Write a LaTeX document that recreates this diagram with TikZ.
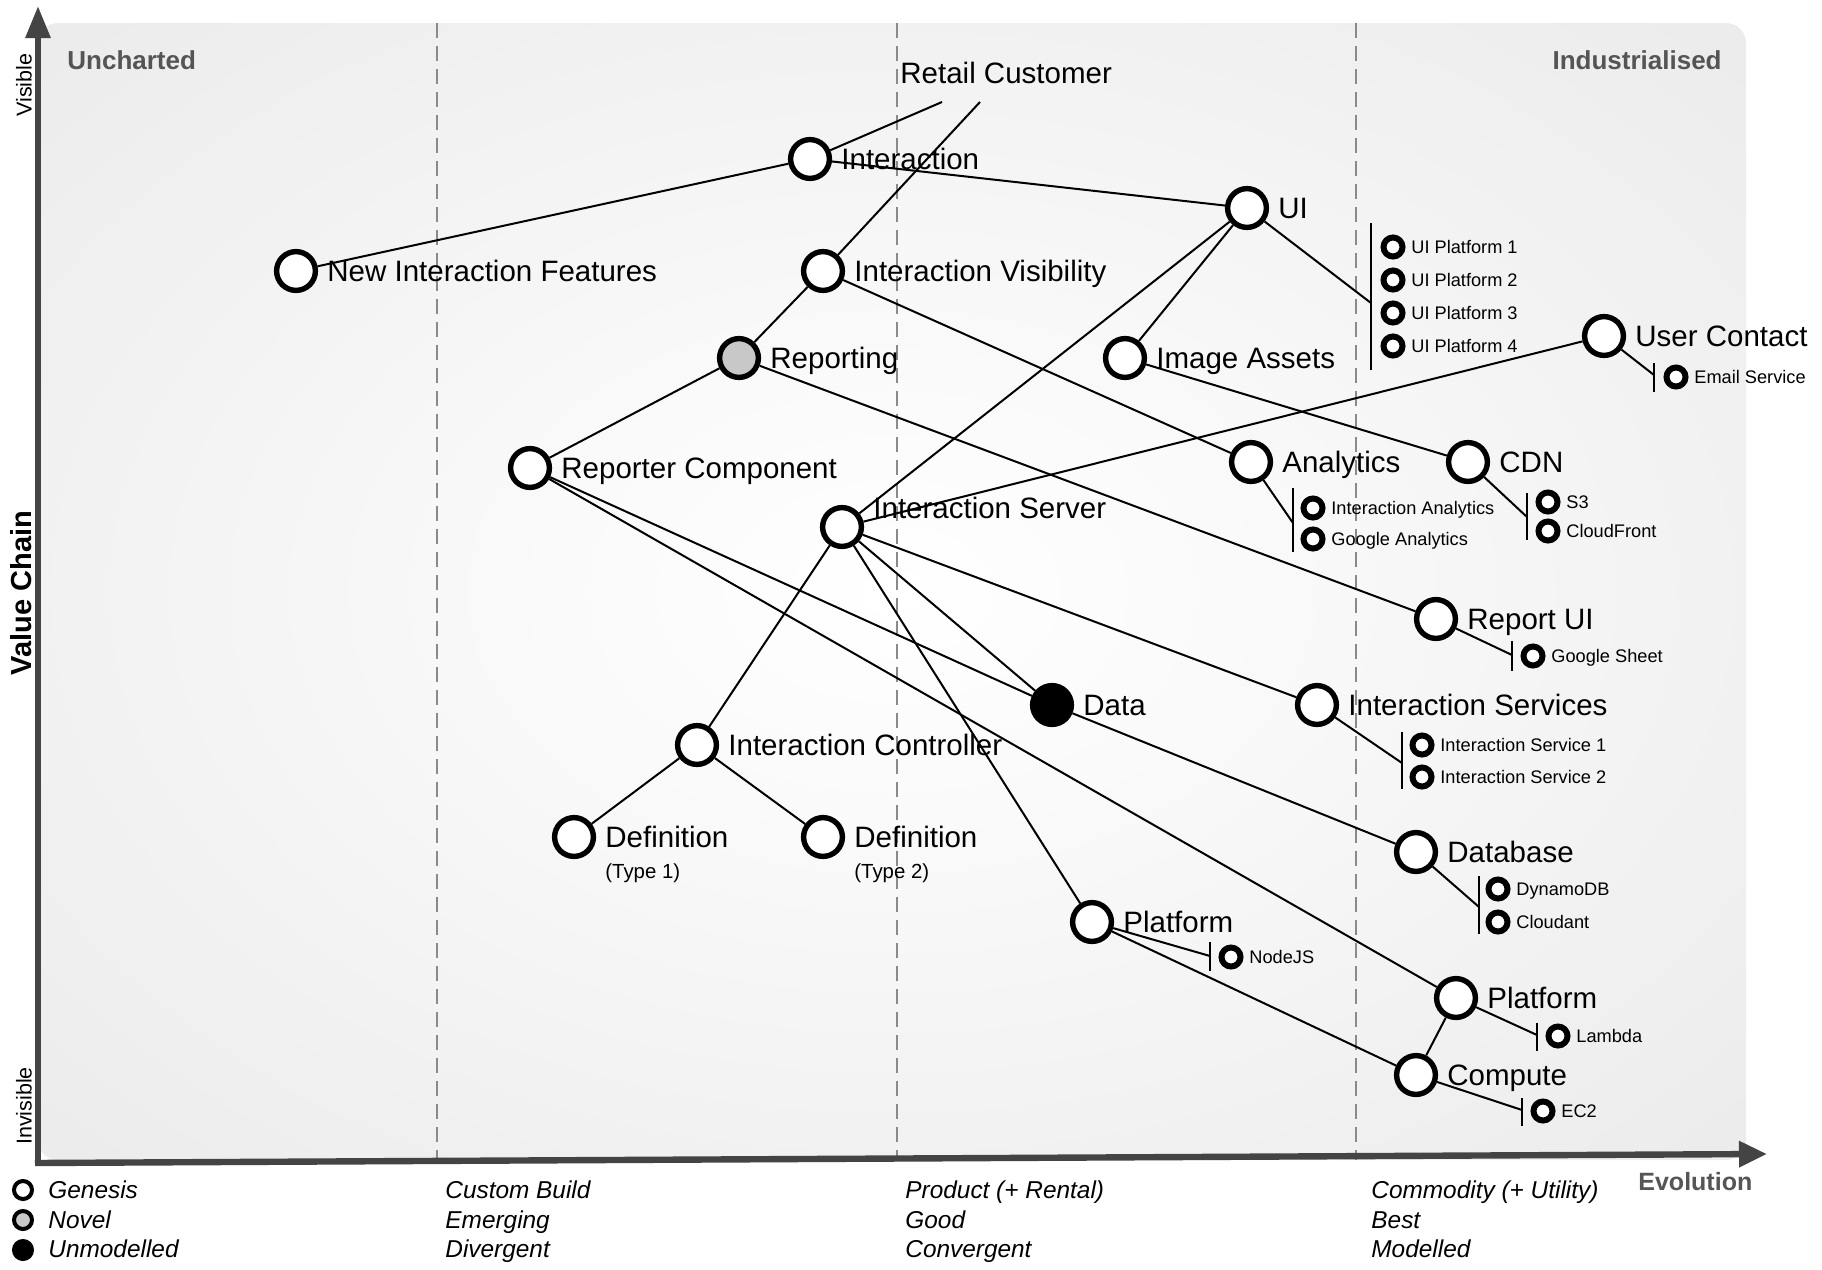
\documentclass[tikz,border=0pt]{standalone}
\usepackage{fontspec}
\setmainfont{Liberation Sans}
\usetikzlibrary{arrows.meta}
\definecolor{axisgray}{HTML}{444444}
\definecolor{labgray}{HTML}{555555}
\definecolor{dashgray}{HTML}{8A8A8A}
\definecolor{novelgray}{HTML}{C8C8C8}
\pgfdeclareradialshading{bgshade}{\pgfpoint{0bp}{0bp}}{color(0bp)=(white); color(10bp)=(white!98!black); color(50bp)=(white!89!black); color(75bp)=(white!87!black)}
\newcommand{\wmcomp}[6][]{\node[comp,#1] (#2) at (#3,#4) {};\node[biglbl] (#2l) at (#3+31,#4+#6) {#5};}
\newcommand{\wsub}[4]{\node[subc] (#1) at (#2,#3) {};\node[smalllbl] (#1l) at (#2+18,#3+6.5) {#4};}
\newcommand{\wbrk}[5]{\coordinate (#1t) at (#2,#3);\coordinate (#1b) at (#2,#4);\coordinate (#1) at (#2,#5);\draw[brk] (#1t) -- (#1b);}
\begin{document}
\begin{tikzpicture}[x=0.5pt,y=-0.5pt,
  comp/.style={circle,draw=black,line width=2.7pt,fill=white,minimum size=19.4pt,inner sep=0pt},
  novel/.style={fill=novelgray},
  unmod/.style={fill=black},
  subc/.style={circle,draw=black,line width=3pt,fill=white,minimum size=9.5pt,inner sep=0pt},
  legc/.style={circle,draw=black,line width=2pt,fill=white,minimum size=9pt,inner sep=0pt},
  biglbl/.style={anchor=base west,inner sep=0pt,font=\fontsize{14.75pt}{17pt}\selectfont},
  smalllbl/.style={anchor=base west,inner sep=0pt,font=\fontsize{9.1pt}{11pt}\selectfont},
  typelbl/.style={anchor=base west,inner sep=0pt,font=\fontsize{10.2pt}{12pt}\selectfont},
  legt/.style={anchor=base west,inner sep=0pt,font=\fontsize{12.2pt}{14pt}\selectfont\itshape},
  axlbl/.style={inner sep=0pt,text=labgray,font=\fontsize{13pt}{15pt}\selectfont\bfseries},
  vlbl/.style={inner sep=0pt,rotate=90,font=\fontsize{10.75pt}{13pt}\selectfont},
  conn/.style={line width=1pt,black},
  brk/.style={line width=1.1pt,black},
  dashline/.style={dashgray,line width=0.75pt,dash pattern=on 7.5pt off 4pt}
]
\useasboundingbox (0,0) rectangle (1822,1270);
\fill[white] (0,0) rectangle (1822,1270);
% background
\shade[shading=bgshade,rounded corners=10pt] (38,23) rectangle (1746,1160);
\draw[dashline] (437,23) -- (437,1160);
\draw[dashline] (897,23) -- (897,1160);
\draw[dashline] (1356,23) -- (1356,1160);
% axes
\draw[axisgray,line width=3pt,-{Triangle[length=16pt,width=12pt]}] (38,1166) -- (38,6);
\draw[axisgray,line width=3.2pt,-{Triangle[length=14pt,width=12.5pt]}] (35,1163) -- (1767,1154);
\node[axlbl,anchor=base west] (unch) at (67,69) {Uncharted};
\node[axlbl,anchor=base east] (indu) at (1722,69) {Industrialised};
\node[axlbl,anchor=base west,font=\fontsize{12.5pt}{15pt}\selectfont\bfseries] (evo) at (1638,1190) {Evolution};
\node[vlbl] (vis) at (24,85) {Visible};
\node[vlbl] (invis) at (24,1106) {Invisible};
\node[vlbl,font=\fontsize{14.5pt}{17pt}\selectfont\bfseries] (vchain) at (21,593) {Value Chain};
% legend
\node[legc] (lg1) at (23,1190) {};
\node[legt] (lg1l) at (48,1198) {Genesis};
\node[legc,fill=novelgray] (lg2) at (23,1220) {};
\node[legt] (lg2l) at (48,1228) {Novel};
\node[legc,fill=black] (lg3) at (23,1250) {};
\node[legt] (lg3l) at (48,1257) {Unmodelled};
\node[legt] (c1a) at (445,1198) {Custom Build};
\node[legt] (c1b) at (445,1228) {Emerging};
\node[legt] (c1c) at (445,1257) {Divergent};
\node[legt] (c2a) at (905,1198) {Product (+ Rental)};
\node[legt] (c2b) at (905,1228) {Good};
\node[legt] (c2c) at (905,1257) {Convergent};
\node[legt] (c3a) at (1371,1198) {Commodity (+ Utility)};
\node[legt] (c3b) at (1371,1228) {Best};
\node[legt] (c3c) at (1371,1257) {Modelled};
% retail customer
\node[biglbl] (rcust) at (900,83) {Retail Customer};
\coordinate (rca) at (942,102);
\coordinate (rcb) at (980,102);
% components
\wmcomp{nif}{296}{271}{New Interaction Features}{10}
\wmcomp{int}{810}{159}{Interaction}{10}
\wmcomp{ui}{1247}{208}{UI}{10}
\wmcomp{iv}{823}{271}{Interaction Visibility}{10}
\wmcomp[novel]{rep}{739}{358}{Reporting}{10}
\wmcomp{img}{1125}{358}{Image Assets}{10}
\wmcomp{uc}{1604}{336}{User Contact}{10}
\wmcomp{rc}{530}{468}{Reporter Component}{10}
\wmcomp{is}{842}{527}{Interaction Server}{-9}
\wmcomp{ana}{1251}{462}{Analytics}{10}
\wmcomp{cdn}{1468}{462}{CDN}{10}
\wmcomp{rui}{1436}{619}{Report UI}{10}
\wmcomp[unmod]{data}{1052}{705}{Data}{10}
\wmcomp{isv}{1317}{705}{Interaction Services}{10}
\wmcomp{ic}{697}{745}{Interaction Controller}{10}
\wmcomp{dfa}{574}{837}{Definition}{10}
\wmcomp{dfb}{823}{837}{Definition}{10}
\wmcomp{db}{1416}{852}{Database}{10}
\wmcomp{pm}{1092}{922}{Platform}{10}
\wmcomp{pr}{1456}{998}{Platform}{10}
\wmcomp{cmp}{1416}{1075}{Compute}{10}
\node[typelbl] (dfat) at (605,878) {(Type 1)};
\node[typelbl] (dfbt) at (854,878) {(Type 2)};
% brackets
\wbrk{bui}{1371}{223}{370}{303}
\wbrk{bem}{1654}{363}{392}{375}
\wbrk{bana}{1293}{488}{552}{523}
\wbrk{bcdn}{1527}{493}{540}{517}
\wbrk{bgs}{1512}{641}{671}{655}
\wbrk{bisv}{1402}{732}{789}{763}
\wbrk{bdb}{1479}{876}{934}{907}
\wbrk{bnode}{1210}{942}{971}{956}
\wbrk{blam}{1537}{1023}{1051}{1035}
\wbrk{bec}{1522}{1098}{1126}{1110}
% sub components
\wsub{upa}{1393}{247}{UI Platform 1}
\wsub{upb}{1393}{280}{UI Platform 2}
\wsub{upc}{1393}{313}{UI Platform 3}
\wsub{upd}{1393}{346}{UI Platform 4}
\wsub{ems}{1676}{377}{Email Service}
\wsub{ia}{1313}{508}{Interaction Analytics}
\wsub{ga}{1313}{539}{Google Analytics}
\wsub{sthree}{1548}{502}{S3}
\wsub{cf}{1548}{531}{CloudFront}
\wsub{gs}{1533}{656}{Google Sheet}
\wsub{isa}{1422}{745}{Interaction Service 1}
\wsub{isb}{1422}{777}{Interaction Service 2}
\wsub{ddb}{1498}{889}{DynamoDB}
\wsub{cld}{1498}{922}{Cloudant}
\wsub{njs}{1231}{957}{NodeJS}
\wsub{lam}{1558}{1036}{Lambda}
\wsub{ectwo}{1543}{1111}{EC2}
% connectors
\draw[conn] (rca) -- (int);
\draw[conn] (rcb) -- (iv);
\draw[conn] (int) -- (nif);
\draw[conn] (int) -- (ui);
\draw[conn] (ui) -- (is);
\draw[conn] (ui) -- (img);
\draw[conn] (ui) -- (bui);
\draw[conn] (iv) -- (rep);
\draw[conn] (iv) -- (ana);
\draw[conn] (rep) -- (rc);
\draw[conn] (rep) -- (rui);
\draw[conn] (img) -- (cdn);
\draw[conn] (is) -- (uc);
\draw[conn] (is) -- (ic);
\draw[conn] (is) -- (data);
\draw[conn] (is) -- (pm);
\draw[conn] (is) -- (isv);
\draw[conn] (rc) -- (data);
\draw[conn] (rc) -- (pr);
\draw[conn] (data) -- (db);
\draw[conn] (pm) -- (cmp);
\draw[conn] (pm) -- (bnode);
\draw[conn] (pr) -- (cmp);
\draw[conn] (pr) -- (blam);
\draw[conn] (cmp) -- (bec);
\draw[conn] (ana) -- (bana);
\draw[conn] (cdn) -- (bcdn);
\draw[conn] (uc) -- (bem);
\draw[conn] (rui) -- (bgs);
\draw[conn] (isv) -- (bisv);
\draw[conn] (db) -- (bdb);
\draw[conn] (ic) -- (dfa);
\draw[conn] (ic) -- (dfb);
\end{tikzpicture}
\end{document}
